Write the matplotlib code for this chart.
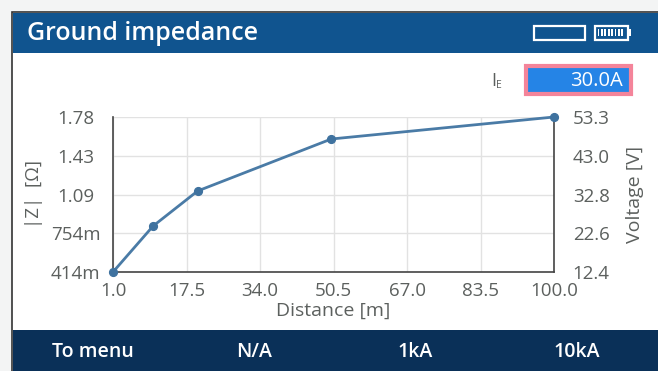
import matplotlib
matplotlib.use('Agg')
import matplotlib.pyplot as plt
from matplotlib.patches import Rectangle

plt.rcParams['font.family'] = ['Open Sans', 'DejaVu Sans']

# values
distance = [1.0, 10.0, 20.0, 50.0, 100.0]
impedance = [414, 819, 1128, 1586, 1780]  # mOhm

x_ticks = [1.0, 17.5, 34.0, 50.5, 67.0, 83.5, 100.0]
x_labels = ['1.0', '17.5', '34.0', '50.5', '67.0', '83.5', '100.0']
z_ticks = [414, 755.5, 1097, 1438.5, 1780]
z_labels = ['414m', '754m', '1.09', '1.43', '1.78']
v_ticks = [12.4, 22.6, 32.8, 43.0, 53.3]
v_labels = ['12.4', '22.6', '32.8', '43.0', '53.3']
footer_labels = ['To menu', 'N/A', '1kA', '10kA']

W, H = 658, 371
TEXT = '#5c605e'
BLUE = '#10548f'
NAVY = '#0a3058'
LINE = '#4a7ba6'

fig = plt.figure(figsize=(W/100, H/100), dpi=100, facecolor='#f3f4f4')

# screen chrome in pixel coordinates
bg = fig.add_axes([0, 0, 1, 1])
bg.set_xlim(0, W)
bg.set_ylim(H, 0)
bg.axis('off')
bg.add_patch(Rectangle((12, 12), W, H, fc='white', ec='#333333', lw=1.2))
bg.add_patch(Rectangle((13, 13), W, 40, fc=BLUE, ec='none'))
bg.add_patch(Rectangle((13, 330), W, 41, fc=NAVY, ec='none'))
bg.text(27, 34, 'Ground impedance', color='white', fontsize=18, fontweight='semibold', va='center')

# header icons
bg.add_patch(Rectangle((533.5, 25.5), 51, 14, fc='none', ec='white', lw=1.6))
bg.add_patch(Rectangle((594.5, 25.5), 33, 14, fc='none', ec='white', lw=1.6))
bg.add_patch(Rectangle((628, 29), 3, 7, fc='white', ec='none'))
for i in range(8):
    bg.add_patch(Rectangle((597.5 + i*3.4, 29), 1.9, 7, fc='white', ec='none'))

# current box
bg.text(491, 81, 'I', color=TEXT, fontsize=13, va='center')
bg.text(496, 85, 'E', color=TEXT, fontsize=7.5, va='center')
bg.add_patch(Rectangle((526, 66), 105, 28, fc='#2584e6', ec='#f4849a', lw=3))
bg.text(623, 81, '30.0A', color='white', fontsize=14.5, ha='right', va='center')

for x, s in zip([93, 254, 415, 577], footer_labels):
    bg.text(x, 352, s, color='white', fontsize=14, fontweight='semibold', ha='center', va='center')

# chart
ax = fig.add_axes([113/W, 1 - 272/H, 441/W, 155/H])
ax.patch.set_alpha(0)
ax.plot(distance, impedance, color=LINE, lw=2, marker='o', ms=5.6,
        mfc='#3f729f', mec='#3f729f', clip_on=False, zorder=5)
ax.set_xlim(1, 100)
ax.set_ylim(414, 1780)
ax.set_xticks(x_ticks, x_labels)
ax.set_yticks(z_ticks, z_labels)
ax.grid(color='#e2e2e2', lw=1)
ax.set_axisbelow(True)
ax.tick_params(length=0, labelsize=13.5, labelcolor=TEXT)
ax.tick_params(axis='y', pad=27)
ax.tick_params(axis='x', pad=7.5)
for lab in ax.get_yticklabels():
    lab.set_ha('center')
ax.set_xlabel('Distance [m]', color=TEXT, fontsize=14)
ax.xaxis.set_label_coords(0.5, (272 - 311) / 155, transform=ax.transAxes)
ax.xaxis.label.set_va('center')
ax.set_ylabel('|Z|  [Ω]', color=TEXT, fontsize=13.5)
ax.yaxis.set_label_coords((34 - 113) / 441, 0.5)
ax.yaxis.label.set_va('center')
for side in ['left', 'bottom', 'right']:
    ax.spines[side].set_color('#444444')
    ax.spines[side].set_linewidth(1.2)
ax.spines['top'].set_visible(False)

ax2 = ax.twinx()
ax2.set_ylim(12.4, 53.3)
ax2.set_yticks(v_ticks, v_labels)
ax2.tick_params(length=0, labelsize=13.5, labelcolor=TEXT, pad=13.5)
ax2.set_ylabel('Voltage [V]', color=TEXT, fontsize=14)
ax2.yaxis.set_label_coords((635 - 113) / 441, 0.5)
ax2.yaxis.label.set_va('center')
for side in ax2.spines:
    ax2.spines[side].set_visible(False)

fig.savefig('out.png', dpi=100, facecolor=fig.get_facecolor())
